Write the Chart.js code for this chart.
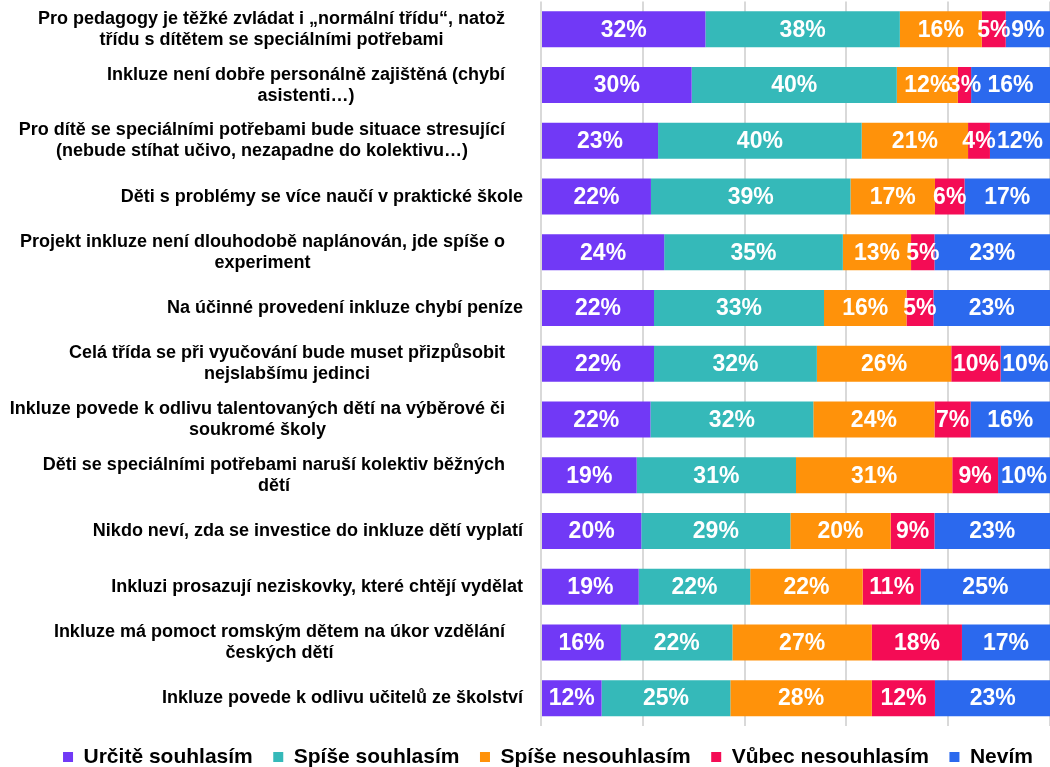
<!DOCTYPE html>
<html>
<head>
<meta charset="utf-8">
<script src="https://cdn.jsdelivr.net/npm/chart.js@4/dist/chart.umd.min.js"></script>
<style>
  html, body { margin: 0; padding: 0; background: #fff; }
  #wrap { width: 1050px; height: 767px; position: relative; }
</style>
</head>
<body>
<div id="wrap"><canvas id="chart"></canvas></div>
<script>
// category labels (arrays = wrapped lines)
const categories = [
    ['Pro pedagogy je těžké zvládat i „normální třídu“, natož', 'třídu s dítětem se speciálními potřebami'],
    ['Inkluze není dobře personálně zajištěná (chybí', 'asistenti…)'],
    ['Pro dítě se speciálními potřebami bude situace stresující', '(nebude stíhat učivo, nezapadne do kolektivu…)'],
    'Děti s problémy se více naučí v praktické škole',
    ['Projekt inkluze není dlouhodobě naplánován, jde spíše o', 'experiment'],
    'Na účinné provedení inkluze chybí peníze',
    ['Celá třída se při vyučování bude muset přizpůsobit', 'nejslabšímu jedinci'],
    ['Inkluze povede k odlivu talentovaných dětí na výběrové či', 'soukromé školy'],
    ['Děti se speciálními potřebami naruší kolektiv běžných', 'dětí'],
    'Nikdo neví, zda se investice do inkluze dětí vyplatí',
    'Inkluzi prosazují neziskovky, které chtějí vydělat',
    ['Inkluze má pomoct romským dětem na úkor vzdělání', 'českých dětí'],
    'Inkluze povede k odlivu učitelů ze školství'
];

// shares in %
const urciteSouhlasim  = [32.3, 29.6, 23.0, 21.6, 24.2, 22.2, 22.2, 21.5, 18.8, 19.7, 19.2, 15.7, 11.9];
const spiseSouhlasim   = [38.2, 40.3, 40.0, 39.2, 35.1, 33.4, 32.0, 32.0, 31.3, 29.3, 21.9, 21.9, 25.3];
const spiseNesouhlasim = [16.1, 12.0, 20.9, 16.6, 13.4, 16.2, 26.4, 23.8, 30.7, 19.7, 22.1, 27.4, 27.8];
const vubecNesouhlasim = [4.7, 2.6, 4.3, 5.8, 4.6, 5.3, 9.7, 7.1, 9.0, 8.6, 11.4, 17.7, 12.4];
const nevim            = [8.7, 15.5, 11.8, 16.8, 22.7, 22.9, 9.7, 15.6, 10.2, 22.7, 25.4, 17.3, 22.7];

const seriesNames = ['Určitě souhlasím', 'Spíše souhlasím', 'Spíše nesouhlasím', 'Vůbec nesouhlasím', 'Nevím'];
const seriesData = [urciteSouhlasim, spiseSouhlasim, spiseNesouhlasim, vubecNesouhlasim, nevim];
const seriesColors = ['#7139f6', '#35b9b9', '#ff920a', '#f40c55', '#2b69ee'];

const FONT = 'Arial, "Liberation Sans", sans-serif';

// white % labels inside the bar segments
const valueLabels = {
    id: 'valueLabels',
    afterDatasetsDraw(chart) {
        const ctx = chart.ctx;
        ctx.save();
        ctx.fillStyle = '#fff';
        ctx.font = 'bold 23px ' + FONT;
        ctx.textAlign = 'center';
        ctx.textBaseline = 'middle';
        chart.data.datasets.forEach((ds, di) => {
            chart.getDatasetMeta(di).data.forEach((bar, i) => {
                const x = (bar.x + bar.base) / 2;
                ctx.fillText(Math.round(ds.data[i]) + '%', x, bar.y + 1);
            });
        });
        ctx.restore();
    }
};

// category labels: lines centred inside a right-aligned block
const categoryLabels = {
    id: 'categoryLabels',
    afterDraw(chart) {
        const ctx = chart.ctx;
        const yScale = chart.scales.y;
        ctx.save();
        ctx.fillStyle = '#000';
        ctx.font = 'bold 18px ' + FONT;
        ctx.textAlign = 'center';
        ctx.textBaseline = 'middle';
        const lineH = 21;
        categories.forEach((lab, i) => {
            const lines = Array.isArray(lab) ? lab : [lab];
            const maxW = Math.max(...lines.map(l => ctx.measureText(l).width));
            const right = lines.length > 1 ? 505 : 523;
            const cx = right - maxW / 2;
            const cy = yScale.getPixelForValue(i);
            const top = cy - (lines.length - 1) * lineH / 2;
            lines.forEach((l, k) => ctx.fillText(l, cx, top + k * lineH));
        });
        ctx.restore();
    }
};

// the original legend sits a little right of centre
const legendShift = {
    id: 'legendShift',
    afterLayout(chart) {
        if (chart.legend) {
            chart.legend.left += 23;
            chart.legend.right += 23;
        }
    }
};

const datasets = seriesNames.map((name, i) => ({
    label: name,
    data: seriesData[i],
    backgroundColor: seriesColors[i],
    borderWidth: 0,
    barPercentage: 0.646,
    categoryPercentage: 1.0
}));

new Chart(document.getElementById('chart'), {
    type: 'bar',
    data: { labels: categories, datasets: datasets },
    options: {
        indexAxis: 'y',
        responsive: true,
        maintainAspectRatio: false,
        animation: false,
        layout: { padding: { top: 1.5, bottom: -10.5, left: 0, right: 0 } },
        plugins: {
            legend: {
                position: 'bottom',
                labels: {
                    boxWidth: 10,
                    boxHeight: 10,
                    padding: 20.5,
                    color: '#000',
                    font: { family: FONT, size: 21, weight: 'bold' }
                }
            },
            tooltip: { enabled: false }
        },
        scales: {
            x: {
                stacked: true,
                min: 0,
                max: 100,
                ticks: { display: false, stepSize: 20 },
                grid: { color: '#d9d9d9', lineWidth: 2, drawTicks: false },
                border: { display: false }
            },
            y: {
                stacked: true,
                ticks: { display: false },
                grid: { display: false },
                border: { display: false },
                afterFit(scale) { scale.width = 541; }
            }
        }
    },
    plugins: [valueLabels, categoryLabels, legendShift]
});
</script>
</body>
</html>
